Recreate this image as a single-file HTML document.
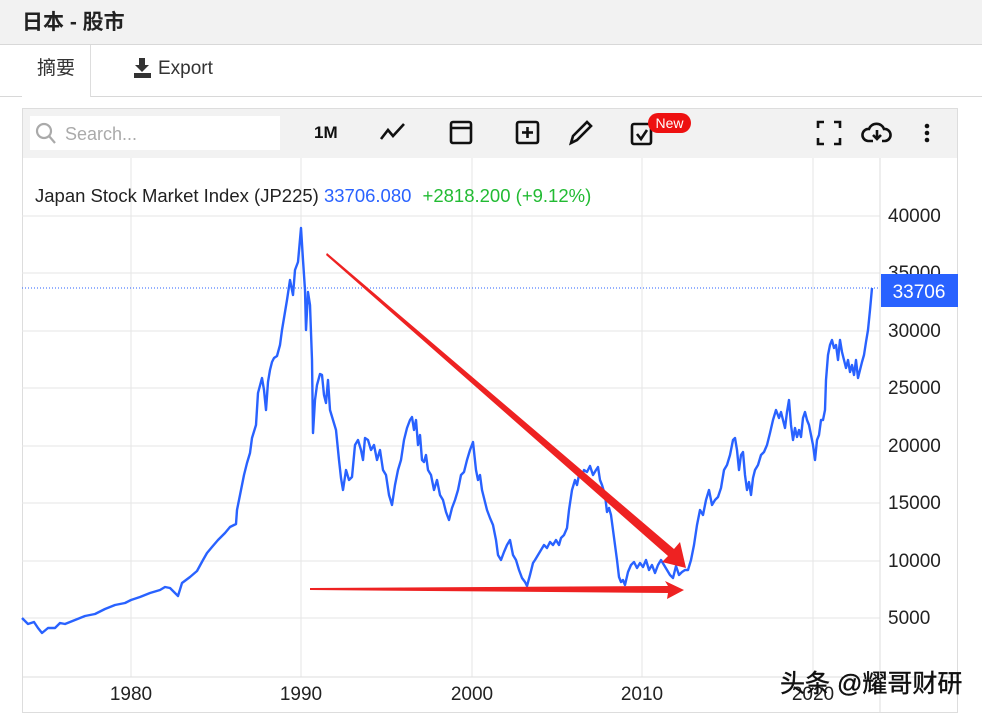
<!DOCTYPE html>
<html><head><meta charset="utf-8"><style>
body{margin:0;width:982px;height:715px;overflow:hidden;background:#fff;font-family:"Liberation Sans","Noto Sans CJK SC",sans-serif;position:relative}
.hdr{position:absolute;left:0;top:0;width:982px;height:44px;background:#f2f2f2;border-bottom:1px solid #d8d8d8}
.hdr span{position:absolute;left:22px;top:6px;font-size:21px;font-weight:bold;color:#222}
.tabs{position:absolute;left:0;top:45px;width:982px;height:51px;border-bottom:1px solid #d8d8d8}
.tab1{position:absolute;left:22px;top:0;width:68px;height:52px;background:#fff;border-right:1px solid #ddd;font-size:19px;color:#333;text-align:center;line-height:48px}
.exp{position:absolute;left:158px;top:13px;font-size:19px;color:#333}
.panel{position:absolute;left:22px;top:108px;width:936px;height:605px;border:1px solid #ddd;box-sizing:border-box}
.tb{position:absolute;left:23px;top:109px;width:934px;height:49px;background:#f2f2f2}
.search{position:absolute;left:30px;top:116px;width:250px;height:34px;background:#fff;font-size:18px;color:#aaa;line-height:36px}
.t{position:absolute;font-size:16px;color:#111}
</style></head><body>
<div class="hdr"><span>日本 - 股市</span></div>
<div class="tabs"><div class="tab1">摘要</div><div class="exp">Export</div></div>
<div class="panel"></div>
<div class="tb"></div>
<div class="search"><span style="margin-left:35px">Search...</span></div>
<div class="t" style="left:314px;top:123px;font-weight:bold;font-size:17px">1M</div>
<svg style="position:absolute;left:0;top:0" width="982" height="715">
<g fill="#333"><rect x="139" y="58" width="6" height="8"/><polygon points="135,65 149,65 142,72"/><rect x="134" y="73" width="17" height="5"/></g>
<g stroke="#aaa" stroke-width="2.2" fill="none"><circle cx="44" cy="131" r="7"/><line x1="49" y1="136" x2="55" y2="143"/></g>
<g stroke="#111" stroke-width="2.6" fill="none">
<polyline points="381,139 388,130 393,136 404,124"/>
<rect x="451" y="122" width="20" height="21" rx="2"/><line x1="451" y1="128" x2="471" y2="128"/>
<rect x="517" y="122" width="21" height="21" rx="2"/><line x1="527.5" y1="127" x2="527.5" y2="138"/><line x1="522" y1="132.5" x2="533" y2="132.5"/>
<path d="M571 143 L573 136 L587 122 L591 126 L577 140 Z"/>
<rect x="632" y="124" width="19" height="20" rx="2"/><polyline points="637,134 641,139 647,130"/>
<path d="M818 128V122H824M834 122H840V128M840 138V144H834M824 144H818V138"/>
<path d="M873 141H868a6 6 0 0 1 1-12a8 8 0 0 1 15 0a6 6 0 0 1 1 12H882"/><path d="M877 130V139M873 135L877 139L881 135"/>
</g>
<circle cx="927" cy="126" r="2.3" fill="#111"/><circle cx="927" cy="133" r="2.3" fill="#111"/><circle cx="927" cy="140" r="2.3" fill="#111"/>
<rect x="648" y="113" width="43" height="20" rx="10" fill="#e11"/>
<text x="669.5" y="128" font-size="14" fill="#fff" text-anchor="middle" font-family="Liberation Sans">New</text>
<g stroke="#e6e6e6" stroke-width="1">
<line x1="22" y1="216" x2="880" y2="216"/><line x1="22" y1="273" x2="880" y2="273"/><line x1="22" y1="331" x2="880" y2="331"/><line x1="22" y1="388" x2="880" y2="388"/><line x1="22" y1="446" x2="880" y2="446"/><line x1="22" y1="503" x2="880" y2="503"/><line x1="22" y1="561" x2="880" y2="561"/><line x1="22" y1="618" x2="880" y2="618"/>
<line x1="131" y1="158" x2="131" y2="677"/><line x1="301" y1="158" x2="301" y2="677"/><line x1="472" y1="158" x2="472" y2="677"/><line x1="642" y1="158" x2="642" y2="677"/><line x1="813" y1="158" x2="813" y2="677"/>
</g>
<line x1="22" y1="677" x2="958" y2="677" stroke="#ddd"/>
<line x1="880" y1="158" x2="880" y2="713" stroke="#ddd"/>
<line x1="22" y1="288" x2="880" y2="288" stroke="#2962ff" stroke-width="1" stroke-dasharray="1,2"/>
<g font-family="Liberation Sans" font-size="19" fill="#222">
<text x="888" y="222">40000</text><text x="888" y="279">35000</text><text x="888" y="337">30000</text><text x="888" y="394">25000</text><text x="888" y="452">20000</text><text x="888" y="509">15000</text><text x="888" y="567">10000</text><text x="888" y="624">5000</text>
<text x="131" y="700" text-anchor="middle">1980</text><text x="301" y="700" text-anchor="middle">1990</text><text x="472" y="700" text-anchor="middle">2000</text><text x="642" y="700" text-anchor="middle">2010</text><text x="813" y="700" text-anchor="middle">2020</text>
</g>
<rect x="881" y="274" width="77" height="33" fill="#2962ff"/>
<text x="919" y="298" font-family="Liberation Sans" font-size="19" fill="#fff" text-anchor="middle">33706</text>
<text x="35" y="202" font-family="Liberation Sans" font-size="18.5" fill="#222">Japan Stock Market Index (JP225) <tspan fill="#2962ff">33706.080</tspan>  <tspan fill="#22bb33" dx="6">+2818.200 (+9.12%)</tspan></text>
<polyline fill="none" stroke="#2962ff" stroke-width="2.4" stroke-linejoin="round" points="22,618 28,624 34,622 38,628 42,633 48,628 55,628 60,623 65,624 75,620 85,616 95,614 105,609 115,605 125,603 131,600 140,597 150,593 160,590 165,587 170,588 178,596 182,583 190,577 197,571 203,560 207,553 212,547 218,540 225,533 230,527 236,524 237,510 240,495 244,475 247,463 250,453 252,438 256,425 258,393 262,378 264,390 266,410 268,382 270,370 272,362 274,358 277,356 280,345 282,330 285,312 287,300 290,280 293,295 295,270 298,262 301,228 303,260 305,290 306,330 308,292 310,305 312,360 313,433 315,400 317,385 320,374 322,375 324,395 326,403 328,380 330,410 333,420 336,430 339,460 341,478 343,490 346,470 349,480 352,477 355,445 358,440 361,450 363,460 365,438 368,440 371,450 374,445 377,460 380,450 383,470 386,475 389,495 392,505 395,485 398,470 401,460 404,440 407,428 410,420 412,417 414,430 416,420 418,445 420,435 422,460 424,462 426,455 428,470 431,475 434,490 437,480 440,495 443,500 446,512 449,520 452,508 455,500 458,490 461,475 464,472 467,460 470,450 473,442 476,470 478,480 480,475 482,490 484,498 487,510 490,518 493,525 496,540 498,555 501,560 504,552 507,545 510,540 513,555 516,560 519,570 522,578 525,582 527,586 530,575 533,563 535,560 538,555 541,550 544,545 547,548 550,542 553,545 556,540 559,545 561,538 564,535 567,528 569,510 572,490 575,480 577,485 579,475 582,477 584,470 587,472 590,466 593,475 596,470 598,467 600,480 602,485 605,495 607,512 609,508 611,515 613,530 615,545 617,560 619,577 621,582 623,580 625,585 628,572 631,565 634,562 637,568 640,563 643,567 646,560 649,570 652,565 655,573 658,565 661,560 664,565 667,570 670,575 673,578 676,566 679,575 682,572 685,570 688,570 691,560 694,545 697,525 700,510 703,515 706,500 709,490 712,505 715,500 718,497 721,488 724,470 727,465 730,455 733,440 735,438 737,450 739,470 741,455 743,452 745,475 747,490 749,482 751,495 753,478 755,470 758,465 761,455 764,452 767,445 770,433 773,420 776,410 779,418 781,412 783,420 785,428 787,412 789,400 791,425 793,440 795,428 797,437 799,430 801,437 803,418 805,412 807,420 809,425 811,435 813,445 815,460 817,440 819,435 821,420 823,420 825,410 826,380 828,355 830,345 832,340 834,348 836,345 838,360 840,340 842,352 844,360 846,368 848,360 850,372 852,365 854,375 856,360 858,378 860,370 862,362 864,355 866,342 868,330 870,310 872,288"/>
<polygon fill="#ee2222" points="326,255 327,253 674,549 680,542 686,568 662,562 668,556"/>
<polygon fill="#ee2222" points="310,588 310,590 668,593 667,599 684,590 665,581 668,586"/>
<text x="780" y="692" font-family="Liberation Sans,Noto Sans CJK SC,sans-serif" font-size="25" fill="#111" stroke="#111" stroke-width="0.4">头条 @耀哥财研</text>
</svg>
</body></html>
